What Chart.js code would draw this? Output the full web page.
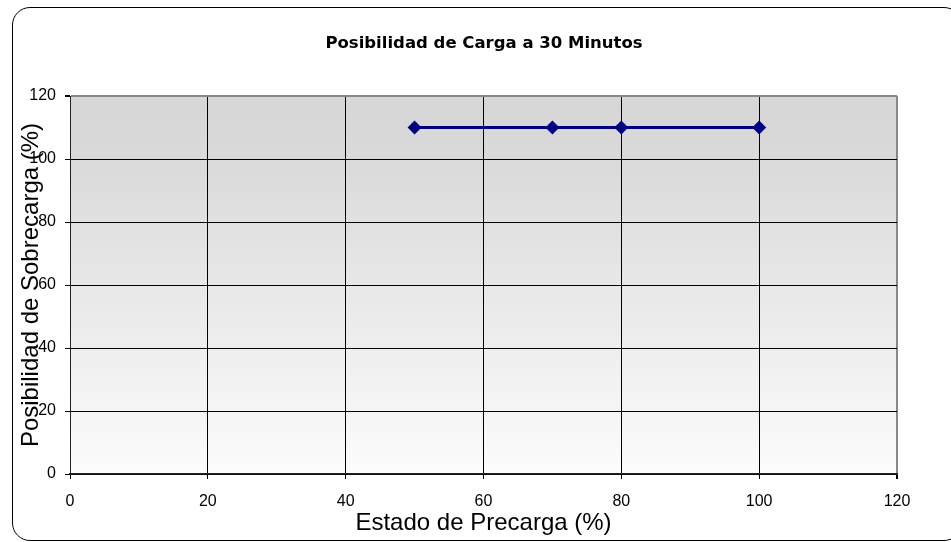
<!DOCTYPE html>
<html>
<head>
<meta charset="utf-8">
<script src="https://cdn.jsdelivr.net/npm/chart.js@4/dist/chart.umd.min.js"></script>
<style>
  html, body { margin: 0; padding: 0; background: #ffffff; }
  #wrap { position: relative; width: 951px; height: 542px; overflow: hidden; }
  #frame {
    position: absolute; left: 12px; top: 7px; width: 950px; height: 534px;
    box-sizing: border-box; border: 1px solid #000; border-radius: 18px;
    pointer-events: none;
  }
  canvas { position: absolute; left: 0; top: 0; }
</style>
</head>
<body>
<div id="wrap">
  <canvas id="chart" width="951" height="542"></canvas>
  <div id="frame"></div>
</div>
<script>
// Precharge state (%) and the matching overload capability (%)
const precargaX = [50, 70, 80, 100];
const sobrecargaY = [110, 110, 110, 110];
const axisTicks = [0, 20, 40, 60, 80, 100, 120];

const chartTitle = 'Posibilidad de Carga a 30 Minutos';
const xTitle = 'Estado de Precarga (%)';
const yTitle = 'Posibilidad de Sobrecarga (%)';

const points = precargaX.map((x, i) => ({ x: x, y: sobrecargaY[i] }));

// Gray-to-white fill behind the plot area
const plotBackground = {
  id: 'plotBackground',
  beforeDraw(chart) {
    const { ctx, chartArea: a } = chart;
    const g = ctx.createLinearGradient(0, a.top, 0, a.bottom);
    g.addColorStop(0, '#d6d6d6');
    g.addColorStop(0.15, '#d9d9d9');
    g.addColorStop(1, '#fcfcfc');
    ctx.save();
    ctx.fillStyle = g;
    ctx.fillRect(a.left, a.top, a.right - a.left, a.bottom - a.top);
    ctx.restore();
  }
};

const edgeColor = (ctx) => ctx.tick && ctx.tick.value === 120 ? '#888888' : '#000000';
const edgeWidth = (ctx) => ctx.tick && ctx.tick.value === 120 ? 2 : 1;

new Chart(document.getElementById('chart'), {
  type: 'scatter',
  data: {
    datasets: [{
      data: points,
      showLine: true,
      borderColor: '#000080',
      backgroundColor: '#000080',
      borderWidth: 3,
      pointStyle: 'rectRot',
      pointRadius: 7,
      pointHoverRadius: 7,
      pointBorderWidth: 0
    }]
  },
  options: {
    responsive: false,
    animation: false,
    events: [],
    layout: { padding: { left: 17, right: 0, top: 0, bottom: 0 } },
    plugins: {
      legend: { display: false },
      tooltip: { enabled: false },
      title: {
        display: true,
        text: chartTitle,
        color: '#000',
        font: { family: 'DejaVu Sans', size: 16.5, weight: 'bold', lineHeight: 1.2 },
        padding: { top: 33.6, bottom: 42.6 }
      }
    },
    scales: {
      x: {
        type: 'linear',
        min: 0, max: 120,
        afterBuildTicks(scale) { scale.ticks = axisTicks.map(v => ({ value: v })); },
        afterFit(scale) { scale.height = 68; },
        ticks: {
          color: '#000',
          font: { family: 'Liberation Sans', size: 16 },
          padding: 13,
          maxRotation: 0
        },
        grid: { color: edgeColor, lineWidth: edgeWidth, tickLength: 5, tickColor: '#000' },
        border: { display: true, color: '#222', width: 1.5 },
        title: {
          display: true,
          text: xTitle,
          color: '#000',
          font: { family: 'Liberation Sans', size: 24, lineHeight: 1.2 },
          padding: { top: 0, bottom: 4.6 }
        }
      },
      y: {
        type: 'linear',
        min: 0, max: 120,
        afterBuildTicks(scale) { scale.ticks = axisTicks.map(v => ({ value: v })); },
        afterFit(scale) { scale.width = 53; },
        ticks: {
          color: '#000',
          font: { family: 'Liberation Sans', size: 16 },
          padding: 9
        },
        grid: { color: edgeColor, lineWidth: edgeWidth, tickLength: 5, tickColor: '#000' },
        border: { display: true, color: '#222', width: 1 },
        title: {
          display: true,
          text: yTitle,
          color: '#000',
          font: { family: 'Liberation Sans', size: 24, lineHeight: 1.2 },
          padding: { top: 0, bottom: 0 }
        }
      },
      // empty right-hand band that keeps the plot clear of the right edge
      yRight: {
        type: 'linear',
        position: 'right',
        min: 0, max: 1,
        display: true,
        afterFit(scale) { scale.width = 54; },
        ticks: { display: false },
        grid: { display: false, drawTicks: false },
        border: { display: false }
      }
    }
  },
  plugins: [plotBackground]
});
</script>
</body>
</html>
